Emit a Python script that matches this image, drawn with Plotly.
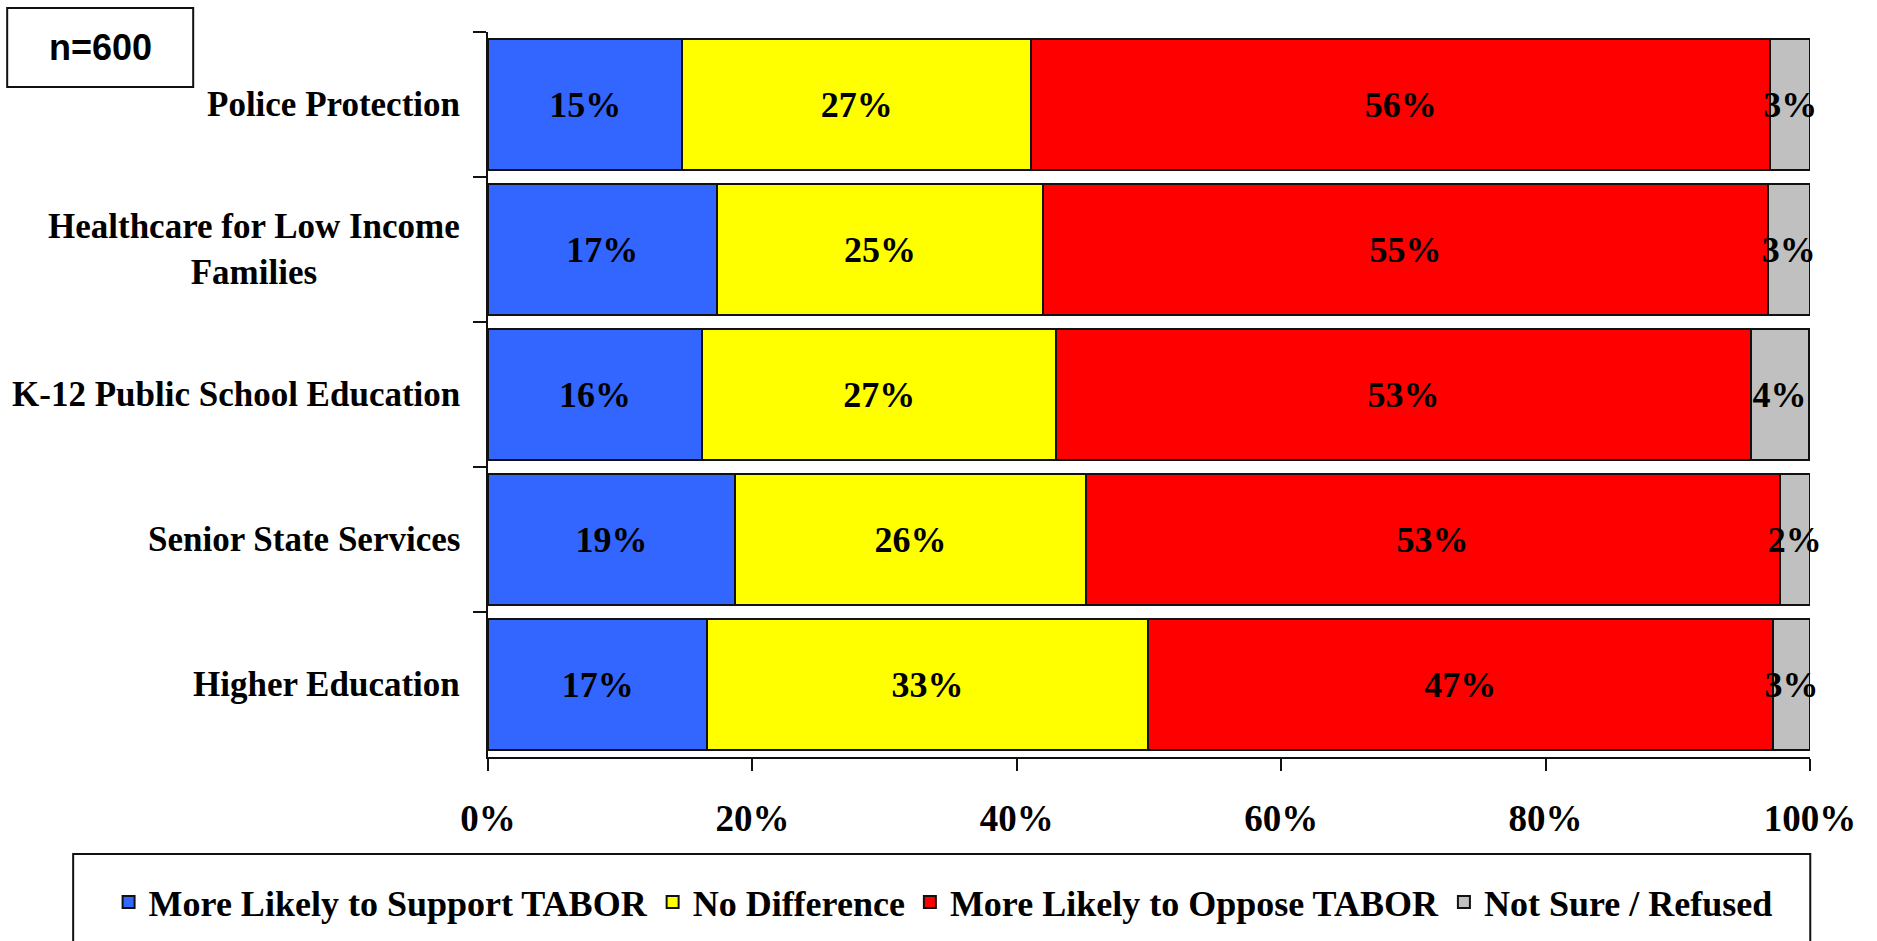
import plotly.graph_objects as go

# ---------------- data ----------------
categories = [
    "Police Protection",
    "Healthcare for Low Income<br>Families",
    "K-12 Public School Education",
    "Senior State Services",
    "Higher Education",
]
series_names = [
    "More Likely to Support TABOR",
    "No Difference",
    "More Likely to Oppose TABOR",
    "Not Sure / Refused",
]
# bar lengths (percent of respondents)
support = [14.7, 17.3, 16.2, 18.7, 16.6]
no_diff = [26.4, 24.7, 26.8, 26.5, 33.3]
oppose = [55.9, 54.8, 52.5, 52.5, 47.3]
not_sure = [3.0, 3.2, 4.4, 2.3, 2.8]
# printed data labels
support_lbl = [15, 17, 16, 19, 17]
no_diff_lbl = [27, 25, 27, 26, 33]
oppose_lbl = [56, 55, 53, 53, 47]
not_sure_lbl = [3, 3, 4, 2, 3]

x_ticks = [0, 20, 40, 60, 80, 100]
x_tick_labels = ["0%", "20%", "40%", "60%", "80%", "100%"]
sample_note = "n=600"

colors = ["#3366FF", "#FFFF00", "#FF0000", "#C0C0C0"]
SERIF = "Liberation Serif, Times New Roman, serif"

fig = go.Figure()
for name, vals, lbls, col in zip(
    series_names,
    [support, no_diff, oppose, not_sure],
    [support_lbl, no_diff_lbl, oppose_lbl, not_sure_lbl],
    colors,
):
    fig.add_trace(
        go.Bar(
            name=name,
            y=categories,
            x=vals,
            orientation="h",
            marker=dict(color=col, line=dict(color="#111111", width=2)),
            text=[f"{v}%" for v in lbls],
            textposition="inside",
            insidetextanchor="middle",
            constraintext="none",
            textangle=0,
            cliponaxis=False,
            textfont=dict(family=SERIF, size=36, color="black", weight="bold"),
            insidetextfont=dict(family=SERIF, size=36, color="black", weight="bold"),
            hoverinfo="skip",
        )
    )

# category labels (centred multi-line text, like the original)
for c in categories:
    fig.add_annotation(
        x=0, xref="paper", y=c, yref="y",
        xanchor="right", yanchor="middle", xshift=-26,
        text=c, showarrow=False, align="center",
        font=dict(family=SERIF, size=35, color="black", weight="bold"),
    )

# n=600 box
fig.add_shape(type="rect", xref="paper", yref="paper",
              x0=-0.3637, x1=-0.2230, y0=0.9241, y1=1.0331,
              line=dict(color="#111111", width=2), fillcolor="white")
fig.add_annotation(x=-0.2934, y=0.9786, xref="paper", yref="paper",
                   xanchor="center", yanchor="middle",
                   text=sample_note, showarrow=False,
                   font=dict(family="Liberation Sans, Arial, sans-serif", size=36,
                             color="black", weight="bold"))

# legend frame
fig.add_shape(type="rect", xref="paper", yref="paper",
              x0=-0.3138, x1=1.0002, y0=-0.27, y1=-0.1338,
              line=dict(color="#111111", width=2), fillcolor="rgba(0,0,0,0)")

fig.update_layout(
    width=1877, height=941,
    barmode="stack", bargap=0.1,
    plot_bgcolor="white", paper_bgcolor="white",
    margin=dict(l=488, r=67, t=32, b=184, autoexpand=False),
    showlegend=True,
    legend=dict(
        orientation="h", x=-0.287, xanchor="left", y=-0.2, yanchor="middle",
        font=dict(family=SERIF, size=36, color="black", weight="bold"),
        bgcolor="rgba(0,0,0,0)", traceorder="normal",
    ),
    xaxis=dict(
        range=[0, 100], tickvals=x_ticks, ticktext=x_tick_labels,
        showgrid=False, zeroline=False,
        showline=True, linecolor="#111111", linewidth=2,
        ticks="outside", ticklen=12, tickwidth=2, tickcolor="#111111",
        tickfont=dict(family=SERIF, size=37, color="black", weight="bold"),
        ticklabelstandoff=16,
    ),
    yaxis=dict(
        autorange="reversed", showticklabels=False, showgrid=False,
        showline=True, linecolor="#111111", linewidth=2,
        ticks="outside", ticklen=13, tickwidth=2, tickcolor="#111111",
        tickson="boundaries",
    ),
)

fig.write_html("out.html", config={"displayModeBar": False},
               post_script="document.body.style.margin='0';")
